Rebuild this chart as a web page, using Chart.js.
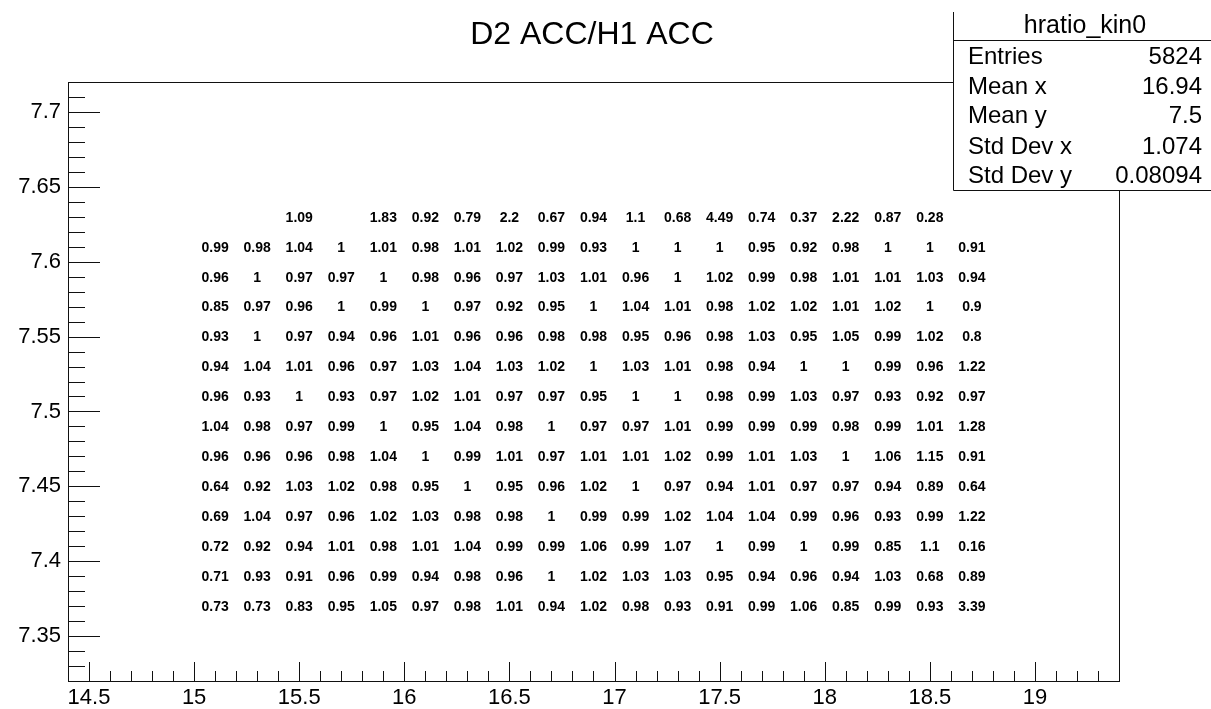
<!DOCTYPE html>
<html><head><meta charset="utf-8">
<script src="https://cdn.jsdelivr.net/npm/chart.js@4.4.1/dist/chart.umd.min.js"></script>
<style>html,body{margin:0;padding:0;background:#fff;} #wrap{width:1211px;height:709px;position:relative;}</style>
</head><body><div id="wrap"><canvas id="c" width="1211" height="709"></canvas></div>
<script>
const chartTitle = "D2 ACC/H1 ACC";
const statsName = "hratio_kin0";
const statLabels = ["Entries", "Mean x", "Mean y", "Std Dev x", "Std Dev y"];
const statValues = ["5824", "16.94", "7.5", "1.074", "0.08094"];

const xBinCenters = [15.1, 15.3, 15.5, 15.7, 15.9, 16.1, 16.3, 16.5, 16.7, 16.9, 17.1, 17.3, 17.5, 17.7, 17.9, 18.1, 18.3, 18.5, 18.7];
const yBinCenters = [7.63, 7.61, 7.59, 7.57, 7.55, 7.53, 7.51, 7.49, 7.47, 7.45, 7.43, 7.41, 7.39, 7.37];

const row_763 = [null, null, 1.09, null, 1.83, 0.92, 0.79, 2.2, 0.67, 0.94, 1.1, 0.68, 4.49, 0.74, 0.37, 2.22, 0.87, 0.28, null];
const row_761 = [0.99, 0.98, 1.04, 1, 1.01, 0.98, 1.01, 1.02, 0.99, 0.93, 1, 1, 1, 0.95, 0.92, 0.98, 1, 1, 0.91];
const row_759 = [0.96, 1, 0.97, 0.97, 1, 0.98, 0.96, 0.97, 1.03, 1.01, 0.96, 1, 1.02, 0.99, 0.98, 1.01, 1.01, 1.03, 0.94];
const row_757 = [0.85, 0.97, 0.96, 1, 0.99, 1, 0.97, 0.92, 0.95, 1, 1.04, 1.01, 0.98, 1.02, 1.02, 1.01, 1.02, 1, 0.9];
const row_755 = [0.93, 1, 0.97, 0.94, 0.96, 1.01, 0.96, 0.96, 0.98, 0.98, 0.95, 0.96, 0.98, 1.03, 0.95, 1.05, 0.99, 1.02, 0.8];
const row_753 = [0.94, 1.04, 1.01, 0.96, 0.97, 1.03, 1.04, 1.03, 1.02, 1, 1.03, 1.01, 0.98, 0.94, 1, 1, 0.99, 0.96, 1.22];
const row_751 = [0.96, 0.93, 1, 0.93, 0.97, 1.02, 1.01, 0.97, 0.97, 0.95, 1, 1, 0.98, 0.99, 1.03, 0.97, 0.93, 0.92, 0.97];
const row_749 = [1.04, 0.98, 0.97, 0.99, 1, 0.95, 1.04, 0.98, 1, 0.97, 0.97, 1.01, 0.99, 0.99, 0.99, 0.98, 0.99, 1.01, 1.28];
const row_747 = [0.96, 0.96, 0.96, 0.98, 1.04, 1, 0.99, 1.01, 0.97, 1.01, 1.01, 1.02, 0.99, 1.01, 1.03, 1, 1.06, 1.15, 0.91];
const row_745 = [0.64, 0.92, 1.03, 1.02, 0.98, 0.95, 1, 0.95, 0.96, 1.02, 1, 0.97, 0.94, 1.01, 0.97, 0.97, 0.94, 0.89, 0.64];
const row_743 = [0.69, 1.04, 0.97, 0.96, 1.02, 1.03, 0.98, 0.98, 1, 0.99, 0.99, 1.02, 1.04, 1.04, 0.99, 0.96, 0.93, 0.99, 1.22];
const row_741 = [0.72, 0.92, 0.94, 1.01, 0.98, 1.01, 1.04, 0.99, 0.99, 1.06, 0.99, 1.07, 1, 0.99, 1, 0.99, 0.85, 1.1, 0.16];
const row_739 = [0.71, 0.93, 0.91, 0.96, 0.99, 0.94, 0.98, 0.96, 1, 1.02, 1.03, 1.03, 0.95, 0.94, 0.96, 0.94, 1.03, 0.68, 0.89];
const row_737 = [0.73, 0.73, 0.83, 0.95, 1.05, 0.97, 0.98, 1.01, 0.94, 1.02, 0.98, 0.93, 0.91, 0.99, 1.06, 0.85, 0.99, 0.93, 3.39];
const rows = [row_763, row_761, row_759, row_757, row_755, row_753, row_751, row_749, row_747, row_745, row_743, row_741, row_739, row_737];

const xTickValues = [14.5, 15, 15.5, 16, 16.5, 17, 17.5, 18, 18.5, 19];
const xTickLabels = ["14.5", "15", "15.5", "16", "16.5", "17", "17.5", "18", "18.5", "19"];
const yTickValues = [7.35, 7.4, 7.45, 7.5, 7.55, 7.6, 7.65, 7.7];
const yTickLabels = ["7.35", "7.4", "7.45", "7.5", "7.55", "7.6", "7.65", "7.7"];

const FONT = '"Liberation Sans", Arial, Helvetica, sans-serif';

const points = [];
rows.forEach((row, i) => {
  row.forEach((v, j) => {
    if (v !== null) points.push({ x: xBinCenters[j], y: yBinCenters[i], v: v });
  });
});

const rootPlugin = {
  id: 'rootStyle',
  beforeDraw(chart) {
    const ctx = chart.ctx;
    ctx.save();
    ctx.fillStyle = '#fff';
    ctx.fillRect(0, 0, chart.width, chart.height);
    ctx.restore();
  },
  afterDatasetsDraw(chart) {
    const ctx = chart.ctx;
    const meta = chart.getDatasetMeta(0);
    const ds = chart.data.datasets[0].data;
    ctx.save();
    ctx.fillStyle = '#000';
    ctx.font = 'bold 14px ' + FONT;
    ctx.textAlign = 'center';
    ctx.textBaseline = 'middle';
    meta.data.forEach((el, k) => {
      ctx.fillText(String(ds[k].v), el.x, el.y + 1);
    });
    ctx.restore();
  },
  afterDraw(chart) {
    const ctx = chart.ctx;
    const a = chart.chartArea;
    const xs = chart.scales.x, ys = chart.scales.y;
    ctx.save();
    ctx.strokeStyle = '#111';
    ctx.lineWidth = 1;
    ctx.strokeRect(Math.round(a.left) + 0.5, Math.round(a.top) + 0.5, Math.round(a.right - a.left), Math.round(a.bottom - a.top));
    ctx.beginPath();
    for (let i = 145; i <= 193; i++) {
      const v = i / 10;
      const px = Math.round(xs.getPixelForValue(v)) + 0.5;
      const len = (i % 5 === 0) ? 19 : 10;
      ctx.moveTo(px, a.bottom);
      ctx.lineTo(px, a.bottom - len);
    }
    for (let i = 733; i <= 771; i++) {
      const v = i / 100;
      const py = Math.round(ys.getPixelForValue(v)) + 0.5;
      const len = (i % 5 === 0) ? 32 : 17;
      ctx.moveTo(a.left, py);
      ctx.lineTo(a.left + len, py);
    }
    ctx.stroke();

    ctx.fillStyle = '#000';
    ctx.textBaseline = 'alphabetic';
    ctx.textAlign = 'center';
    ctx.font = '32px ' + FONT;
    ctx.fillText(chartTitle, 592, 44);

    const bx = 953, by = 12, bw = 1211 - 953, bh = 178;
    ctx.fillStyle = '#fff';
    ctx.fillRect(bx, by, bw, bh);
    ctx.strokeStyle = '#111';
    ctx.beginPath();
    ctx.moveTo(bx + 0.5, by);
    ctx.lineTo(bx + 0.5, by + bh + 0.5);
    ctx.lineTo(1211, by + bh + 0.5);
    ctx.moveTo(bx, 40.5);
    ctx.lineTo(1211, 40.5);
    ctx.stroke();
    ctx.fillStyle = '#000';
    ctx.font = '25px ' + FONT;
    ctx.textAlign = 'center';
    ctx.fillText(statsName, 1085, 33);
    ctx.font = '24px ' + FONT;
    const baselines = [64, 94, 123, 154, 183];
    statLabels.forEach((lab, i) => {
      ctx.textAlign = 'left';
      ctx.fillText(lab, 968, baselines[i]);
      ctx.textAlign = 'right';
      ctx.fillText(statValues[i], 1202, baselines[i]);
    });
    ctx.restore();
  }
};

new Chart(document.getElementById('c'), {
  type: 'scatter',
  data: {
    datasets: [{
      data: points,
      pointRadius: 0,
      pointHoverRadius: 0,
      showLine: false
    }]
  },
  options: {
    responsive: false,
    animation: false,
    events: [],
    layout: { padding: { top: 82, right: 92, left: 0, bottom: 0 } },
    plugins: { legend: { display: false }, tooltip: { enabled: false }, title: { display: false } },
    scales: {
      x: {
        type: 'linear',
        min: 14.4,
        max: 19.4,
        afterBuildTicks: (s) => { s.ticks = xTickValues.map(v => ({ value: v })); },
        afterFit: (s) => { s.height = 28; },
        grid: { display: false, drawTicks: false },
        border: { display: false },
        ticks: {
          autoSkip: false,
          maxRotation: 0,
          padding: 4,
          color: '#000',
          font: { size: 22, family: FONT },
          callback: (v, i) => xTickLabels[i]
        }
      },
      y: {
        type: 'linear',
        min: 7.32,
        max: 7.72,
        afterBuildTicks: (s) => { s.ticks = yTickValues.map(v => ({ value: v })); },
        afterFit: (s) => { s.width = 68; },
        grid: { display: false, drawTicks: false },
        border: { display: false },
        ticks: {
          autoSkip: false,
          padding: 7,
          color: '#000',
          font: { size: 22, family: FONT },
          callback: (v, i) => yTickLabels[i]
        }
      }
    }
  },
  plugins: [rootPlugin]
});
</script>
</body></html>
